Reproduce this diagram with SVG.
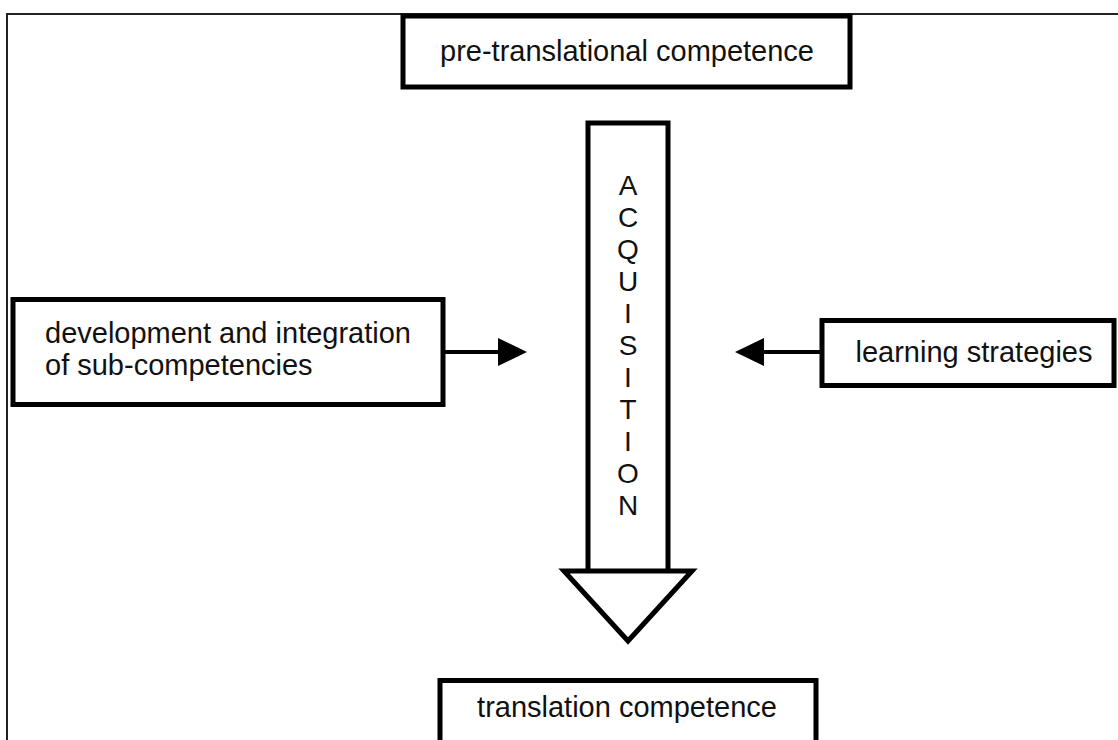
<svg xmlns="http://www.w3.org/2000/svg" width="1118" height="740" viewBox="0 0 1118 740">
<style>
.box{fill:#fff;stroke:#000;stroke-width:5}
.frame{fill:none;stroke:#222;stroke-width:2}
.lbl{font-family:"Liberation Sans",Arial,sans-serif;font-size:29px;fill:#111}
.let{font-family:"Liberation Sans",Arial,sans-serif;font-size:28px;fill:#111;text-anchor:middle}
.conn{stroke:#000;stroke-width:4;fill:none}
.head{fill:#000;stroke:none}
</style>
<rect width="1118" height="740" fill="#fff"/>
<g id="frame">
<path class="frame" d="M7,740 V14 H1118"/>
</g>
<g id="connectors">
<line class="conn" x1="445" y1="352" x2="500" y2="352"/>
<polygon class="head" points="498,338 527,352 498,366"/>
<line class="conn" x1="820" y1="352" x2="762" y2="352"/>
<polygon class="head" points="764,338 735,352 764,366"/>
</g>
<g id="pre-translational">
<rect class="box" x="403" y="16" width="447" height="71"/>
<text class="lbl" x="627" y="61" text-anchor="middle">pre-translational competence</text>
</g>
<g id="acquisition">
<path class="box" stroke-width="4.5" d="M588,571 V123 H668 V571"/>
<polygon class="box" stroke-linejoin="miter" points="564,571 692,571 628,641"/>
<text class="let" x="628" y="195">A</text>
<text class="let" x="628" y="227">C</text>
<text class="let" x="628" y="259">Q</text>
<text class="let" x="628" y="291">U</text>
<text class="let" x="628" y="323">I</text>
<text class="let" x="628" y="355">S</text>
<text class="let" x="628" y="387">I</text>
<text class="let" x="628" y="419">T</text>
<text class="let" x="628" y="451">I</text>
<text class="let" x="628" y="483">O</text>
<text class="let" x="628" y="515">N</text>
</g>
<g id="development">
<rect class="box" x="13" y="299.5" width="430" height="105"/>
<text class="lbl" x="45" y="343">development and integration</text>
<text class="lbl" x="45" y="375">of sub-competencies</text>
</g>
<g id="learning">
<rect class="box" x="822" y="320.5" width="292" height="65"/>
<text class="lbl" x="974" y="362" text-anchor="middle">learning strategies</text>
</g>
<g id="translation">
<rect class="box" x="440" y="680.5" width="376" height="62"/>
<text class="lbl" x="627" y="717" text-anchor="middle">translation competence</text>
</g>
</svg>
